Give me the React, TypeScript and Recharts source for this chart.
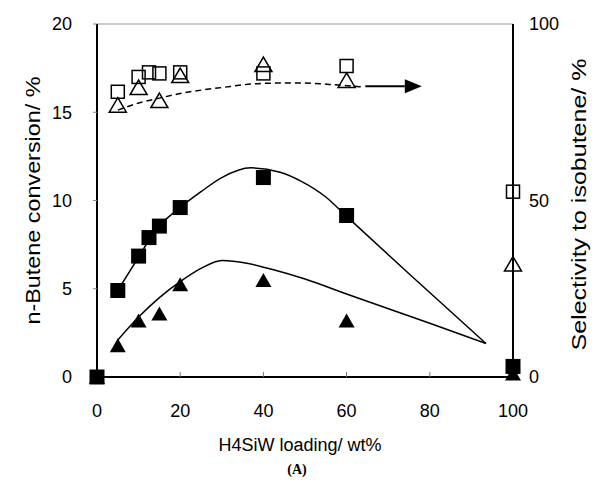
import React from "react";
import { ComposedChart, Line, Scatter, XAxis, YAxis, ReferenceLine } from "recharts";

// H4SiW loading (wt%)
const loadSq = [0, 5, 10, 12.5, 15, 20, 40, 60, 100];
const loadTri = [0, 5, 10, 15, 20, 40, 60, 100];

// n-butene conversion (%) - filled markers, left axis
const convSq = [0, 4.9, 6.85, 7.9, 8.55, 9.6, 11.3, 9.15, 0.6];
const convTri = [0, 1.8, 3.2, 3.6, 5.25, 5.5, 3.2, 0.2];

// selectivity to isobutene (%) - open markers, right axis
const loadSelSq = [5, 10, 12.5, 15, 20, 40, 60, 100];
const selSq = [80.8, 85, 86.3, 86, 86.3, 86, 88.1, 52.5];
const loadSelTri = [5, 10, 15, 20, 40, 60, 100];
const selTri = [77, 82, 78.3, 85.4, 88.5, 84, 32];

// hand drawn trend curves
const fitSqX = [5, 10, 12.5, 15, 20, 25, 30, 37, 44, 49, 55, 60, 75, 93.5];
const fitSqY = [4.9, 6.8, 7.75, 8.55, 9.6, 10.5, 11.3, 11.85, 11.6, 11.1, 10.2, 9.1, 5.85, 1.9];
const fitTriX = [5, 10, 15, 20, 25, 30, 36, 42, 50, 60, 80, 93.5];
const fitTriY = [2.1, 3.4, 4.5, 5.4, 6.15, 6.6, 6.45, 6.1, 5.55, 4.7, 3.05, 1.9];
const fitSelX = [5, 10, 15, 20, 30, 40, 48, 57, 63.5];
const fitSelY = [75.6, 77.6, 79, 80.3, 82, 83.2, 83.3, 82.8, 82.2];
const arrowX = [64.5, 74];
const arrowY = [82.4, 82.4];

const xTicks = [0, 20, 40, 60, 80, 100];
const leftTicks = [0, 5, 10, 15, 20];
const rightTicks = [0, 50, 100];

const zip = (xs: number[], ys: number[]) => xs.map((x, i) => ({ x, y: ys[i] }));

const FONT = "'Liberation Sans', Arial, sans-serif";
const tickStyle = { fontSize: 18, fill: "#000", fontFamily: FONT };

const FilledSquare = (p: any) => (
  <rect x={p.cx - 7.5} y={p.cy - 7.5} width={15} height={15} fill="#000" />
);
const FilledTriangle = (p: any) => (
  <polygon
    points={`${p.cx},${p.cy - 7} ${p.cx + 8},${p.cy + 7} ${p.cx - 8},${p.cy + 7}`}
    fill="#000"
  />
);
const OpenSquare = (p: any) => (
  <rect x={p.cx - 6.5} y={p.cy - 6.5} width={13} height={13} fill="none" stroke="#000" strokeWidth={1.5} />
);
const OpenTriangle = (p: any) => (
  <polygon
    points={`${p.cx},${p.cy - 7.5} ${p.cx + 8.5},${p.cy + 7} ${p.cx - 8.5},${p.cy + 7}`}
    fill="none"
    stroke="#000"
    strokeWidth={1.5}
  />
);

const ArrowHead = (p: any) => {
  if (p.index !== arrowX.length - 1) return <g key={`a${p.index}`} />;
  return (
    <polygon
      key={`a${p.index}`}
      points={`${p.cx},${p.cy - 7} ${p.cx + 17},${p.cy} ${p.cx},${p.cy + 7}`}
      fill="#000"
    />
  );
};

const RotatedTitle = ({ x, y, text, length }: { x: number; y: number; text: string; length: number }) => (
  <text
    x={x}
    y={y}
    transform={`rotate(-90 ${x} ${y})`}
    textAnchor="middle"
    dominantBaseline="central"
    fontSize={20}
    textLength={length}
    lengthAdjust="spacingAndGlyphs"
    fontFamily={FONT}
    fill="#000"
  >
    {text}
  </text>
);

export default function App() {
  return (
    <div style={{ position: "absolute", left: 0, top: 0, background: "#fff" }}>
      <ComposedChart
        width={595}
        height={494}
        margin={{ top: 24, right: 0, bottom: 87, left: 0 }}
        style={{ fontFamily: FONT }}
      >
        <XAxis
          dataKey="x"
          type="number"
          domain={[0, 100]}
          ticks={xTicks}
          height={30}
          axisLine={{ stroke: "#000", strokeWidth: 2 }}
          tickLine={{ stroke: "#777" }}
          tickSize={-5}
          tickMargin={32}
          tick={tickStyle}
          label={{
            content: (props: any) => {
              const vb = props.viewBox;
              const cx = vb.x + vb.width / 2 - 5;
              return (
                <g>
                  <text x={cx} y={vb.y + 74} textAnchor="middle" fontSize={18} fontFamily={FONT} fill="#000">
                    H4SiW loading/ wt%
                  </text>
                  <text
                    x={cx - 3}
                    y={vb.y + 97}
                    textAnchor="middle"
                    fontSize={14}
                    fontWeight="bold"
                    fontFamily="'Liberation Serif', 'Times New Roman', serif"
                    fill="#000"
                  >
                    (A)
                  </text>
                </g>
              );
            },
          }}
        />
        <YAxis
          yAxisId="left"
          type="number"
          domain={[0, 20]}
          ticks={leftTicks}
          width={97}
          axisLine={{ stroke: "#000", strokeWidth: 2 }}
          tickLine={{ stroke: "#888" }}
          tickSize={4}
          tickMargin={21}
          tick={tickStyle}
          label={{
            content: (props: any) => {
              const vb = props.viewBox;
              return (
                <RotatedTitle
                  x={vb.x + 33}
                  y={vb.y + vb.height / 2}
                  text="n-Butene conversion/ %"
                  length={248}
                />
              );
            },
          }}
        />
        <YAxis
          yAxisId="right"
          orientation="right"
          type="number"
          domain={[0, 100]}
          ticks={rightTicks}
          width={82}
          axisLine={{ stroke: "#000", strokeWidth: 2 }}
          tickLine={false}
          tickSize={0}
          tickMargin={16}
          tick={tickStyle}
          label={{
            content: (props: any) => {
              const vb = props.viewBox;
              return (
                <RotatedTitle
                  x={vb.x + 66}
                  y={vb.y + vb.height / 2 + 4}
                  text="Selectivity to isobutene/ %"
                  length={292}
                />
              );
            },
          }}
        />
        <ReferenceLine yAxisId="left" y={20} stroke="#999" strokeWidth={1} />

        <Line
          yAxisId="left"
          data={zip(fitSqX, fitSqY)}
          dataKey="y"
          type="monotone"
          stroke="#000"
          strokeWidth={1.5}
          dot={false}
          isAnimationActive={false}
        />
        <Line
          yAxisId="left"
          data={zip(fitTriX, fitTriY)}
          dataKey="y"
          type="monotone"
          stroke="#000"
          strokeWidth={1.5}
          dot={false}
          isAnimationActive={false}
        />
        <Line
          yAxisId="right"
          data={zip(fitSelX, fitSelY)}
          dataKey="y"
          type="monotone"
          stroke="#000"
          strokeWidth={1.5}
          strokeDasharray="6 4"
          dot={false}
          isAnimationActive={false}
        />
        <Line
          yAxisId="right"
          data={zip(arrowX, arrowY)}
          dataKey="y"
          type="linear"
          stroke="#000"
          strokeWidth={2}
          dot={ArrowHead}
          activeDot={false}
          isAnimationActive={false}
        />

        <Scatter yAxisId="right" data={zip(loadSelSq, selSq)} dataKey="y" shape={OpenSquare} isAnimationActive={false} />
        <Scatter yAxisId="right" data={zip(loadSelTri, selTri)} dataKey="y" shape={OpenTriangle} isAnimationActive={false} />
        <Scatter yAxisId="left" data={zip(loadTri, convTri)} dataKey="y" shape={FilledTriangle} isAnimationActive={false} />
        <Scatter yAxisId="left" data={zip(loadSq, convSq)} dataKey="y" shape={FilledSquare} isAnimationActive={false} />
      </ComposedChart>
    </div>
  );
}
